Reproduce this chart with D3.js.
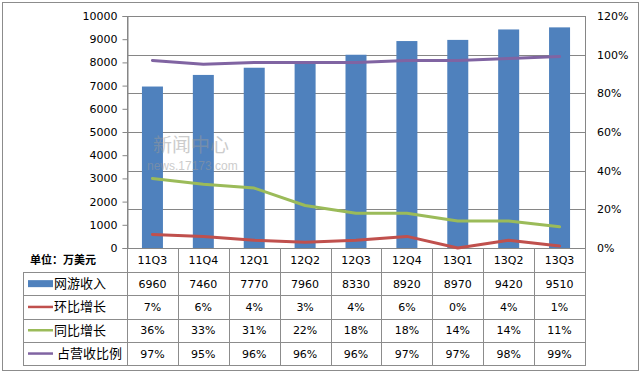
<!DOCTYPE html>
<html>
<head>
<meta charset="utf-8">
<script src="https://cdn.jsdelivr.net/npm/d3@7"></script>
<style>
  body { margin: 0; background: #fff; }
  svg { display: block; }
</style>
</head>
<body>
<div id="chart"></div>
<script>
// DATA //
const quarters = ["11Q3", "11Q4", "12Q1", "12Q2", "12Q3", "12Q4", "13Q1", "13Q2", "13Q3"]
const revenue = [6960, 7460, 7770, 7960, 8330, 8920, 8970, 9420, 9510]   // 网游收入
const qoq = [7, 6, 4, 3, 4, 6, 0, 4, 1]                                     // 环比增长 %
const yoy = [36, 33, 31, 22, 18, 18, 14, 14, 11]                            // 同比增长 %
const share = [97, 95, 96, 96, 96, 97, 97, 98, 99]                          // 占营收比例 %
const leftTicks = [0, 1000, 2000, 3000, 4000, 5000, 6000, 7000, 8000, 9000, 10000]
const rightTicks = [0, 20, 40, 60, 80, 100, 120]

const series = [
    { name: "网游收入", type: "bar", values: revenue, fmt: d => d, color: "#4f81bd" },
    { name: "环比增长", type: "line", values: qoq, fmt: d => d + "%", color: "#c0504d" },
    { name: "同比增长", type: "line", values: yoy, fmt: d => d + "%", color: "#9bbb59" },
    { name: " 占营收比例", type: "line", values: share, fmt: d => d + "%", color: "#8064a2" },
]

// DIMENSIONS //
const width = 642
const height = 373
const plot = { left: 127, right: 585, top: 16, bottom: 248 }
const tableLeft = 23
const headerH = 24
const rowH = 23.3

const svg = d3.select("#chart").append("svg")
    .attr("width", width)
    .attr("height", height)

const font = "'DejaVu Sans', Verdana, sans-serif"
const cjk = "'Noto Sans CJK SC', sans-serif"
const gridColor = "#868686"

// outer frame
svg.append("rect")
    .attr("x", 2.5).attr("y", 2.5)
    .attr("width", 636).attr("height", 368)
    .attr("fill", "none")
    .attr("stroke", "#8c8c8c")

// Scales
const xScale = d3.scaleBand()
    .domain(quarters)
    .range([plot.left, plot.right])
    .padding(0)

const yLeft = d3.scaleLinear()
    .domain([0, 10000])
    .range([plot.bottom, plot.top])

const yRight = d3.scaleLinear()
    .domain([0, 120])
    .range([plot.bottom, plot.top])

// gridlines from the right axis
svg.append("g")
    .selectAll("line")
    .data(rightTicks)
    .join("line")
    .attr("x1", plot.left)
    .attr("x2", plot.right)
    .attr("y1", d => Math.round(yRight(d)) + 0.5)
    .attr("y2", d => Math.round(yRight(d)) + 0.5)
    .attr("stroke", gridColor)

// plot box sides
svg.append("line")
    .attr("x1", plot.left + 0.5).attr("x2", plot.left + 0.5)
    .attr("y1", plot.top).attr("y2", plot.bottom)
    .attr("stroke", gridColor)
svg.append("line")
    .attr("x1", plot.right + 0.5).attr("x2", plot.right + 0.5)
    .attr("y1", plot.top).attr("y2", plot.bottom)
    .attr("stroke", gridColor)

// left axis
const leftAxis = d3.axisLeft(yLeft)
    .tickValues(leftTicks)
    .tickSize(5)
    .tickPadding(5)
    .tickFormat(d => d)

const leftG = svg.append("g")
    .attr("transform", `translate(${plot.left + 0.5},0)`)
    .call(leftAxis)
leftG.select(".domain").attr("stroke", gridColor)
leftG.selectAll(".tick line").attr("stroke", gridColor)
leftG.selectAll("text")
    .attr("fill", "#000")
    .style("font-family", font)
    .style("font-size", "11px")

// right axis
const rightAxis = d3.axisRight(yRight)
    .tickValues(rightTicks)
    .tickSize(0)
    .tickPadding(12)
    .tickFormat(d => d + "%")

const rightG = svg.append("g")
    .attr("transform", `translate(${plot.right},0)`)
    .call(rightAxis)
rightG.select(".domain").remove()
rightG.selectAll("text")
    .attr("fill", "#000")
    .style("font-family", font)
    .style("font-size", "11px")

// bars
const barW = 21
svg.append("g")
    .selectAll("rect")
    .data(revenue)
    .join("rect")
    .attr("x", (d, i) => xScale(quarters[i]) + xScale.bandwidth() / 2 - barW / 2)
    .attr("y", d => yLeft(d))
    .attr("width", barW)
    .attr("height", d => plot.bottom - yLeft(d))
    .attr("fill", "#4f81bd")

// watermark (sits over the bars, half see-through)
const wm = svg.append("g").attr("opacity", 0.5)
wm.append("text")
    .attr("x", 153).attr("y", 152)
    .attr("fill", "#9a9a9a")
    .style("font-family", cjk)
    .style("font-size", "19px")
    .text("新闻中心")
wm.append("text")
    .attr("x", 147).attr("y", 170)
    .attr("fill", "#9a9a9a")
    .style("font-family", "'Liberation Sans', Arial, sans-serif")
    .style("font-size", "12px")
    .text("news.17173.com")

// lines
const lineGen = d3.line()
    .x((d, i) => xScale(quarters[i]) + xScale.bandwidth() / 2)
    .y(d => yRight(d))

series.filter(s => s.type == "line").forEach(s => {
    svg.append("path")
        .datum(s.values)
        .attr("d", lineGen)
        .attr("fill", "none")
        .attr("stroke", s.color)
        .attr("stroke-width", 3)
        .attr("stroke-linejoin", "round")
        .attr("stroke-linecap", "round")
})

// DATA TABLE //
const table = svg.append("g")
const tableBottom = plot.bottom + headerH + rowH * series.length
const tableColor = "#8c8c8c"

// header: unit label
table.append("text")
    .attr("x", 30)
    .attr("y", plot.bottom + headerH / 2 + 4)
    .style("font-family", cjk)
    .style("font-size", "11px")
    .style("font-weight", "bold")
    .text("单位：万美元")

// vertical lines for category columns
table.selectAll(".vline")
    .data(d3.range(quarters.length + 1))
    .join("line")
    .attr("class", "vline")
    .attr("x1", i => Math.round(plot.left + i * xScale.bandwidth()) + 0.5)
    .attr("x2", i => Math.round(plot.left + i * xScale.bandwidth()) + 0.5)
    .attr("y1", plot.bottom)
    .attr("y2", tableBottom)
    .attr("stroke", tableColor)

table.append("line")
    .attr("x1", tableLeft + 0.5).attr("x2", tableLeft + 0.5)
    .attr("y1", plot.bottom + headerH).attr("y2", tableBottom)
    .attr("stroke", tableColor)

// horizontal lines
table.selectAll(".hline")
    .data(d3.range(series.length + 1))
    .join("line")
    .attr("class", "hline")
    .attr("x1", tableLeft)
    .attr("x2", plot.right + 1)
    .attr("y1", i => Math.round(plot.bottom + headerH + i * rowH) + 0.5)
    .attr("y2", i => Math.round(plot.bottom + headerH + i * rowH) + 0.5)
    .attr("stroke", tableColor)

// category labels
table.selectAll(".cat")
    .data(quarters)
    .join("text")
    .attr("class", "cat")
    .attr("x", d => xScale(d) + xScale.bandwidth() / 2)
    .attr("y", plot.bottom + headerH / 2 + 4)
    .attr("text-anchor", "middle")
    .style("font-family", font)
    .style("font-size", "11px")
    .text(d => d)

// rows
series.forEach((s, r) => {
    const yMid = plot.bottom + headerH + rowH * r + rowH / 2
    if (s.type == "bar") {
        table.append("rect")
            .attr("x", 28).attr("y", yMid - 3.5)
            .attr("width", 25).attr("height", 7)
            .attr("fill", s.color)
    } else {
        table.append("line")
            .attr("x1", 28).attr("x2", 53)
            .attr("y1", yMid).attr("y2", yMid)
            .attr("stroke", s.color)
            .attr("stroke-width", 2.5)
    }
    table.append("text")
        .attr("x", 54)
        .attr("y", yMid + 4.5)
        .attr("xml:space", "preserve")
        .style("font-family", cjk)
        .style("font-size", "13px")
        .style("white-space", "pre")
        .text(s.name)

    table.append("g")
        .selectAll("text")
        .data(s.values)
        .join("text")
        .attr("x", (d, i) => xScale(quarters[i]) + xScale.bandwidth() / 2)
        .attr("y", yMid + 4)
        .attr("text-anchor", "middle")
        .style("font-family", font)
        .style("font-size", "11px")
        .text(d => s.fmt(d))
})
</script>
</body>
</html>
